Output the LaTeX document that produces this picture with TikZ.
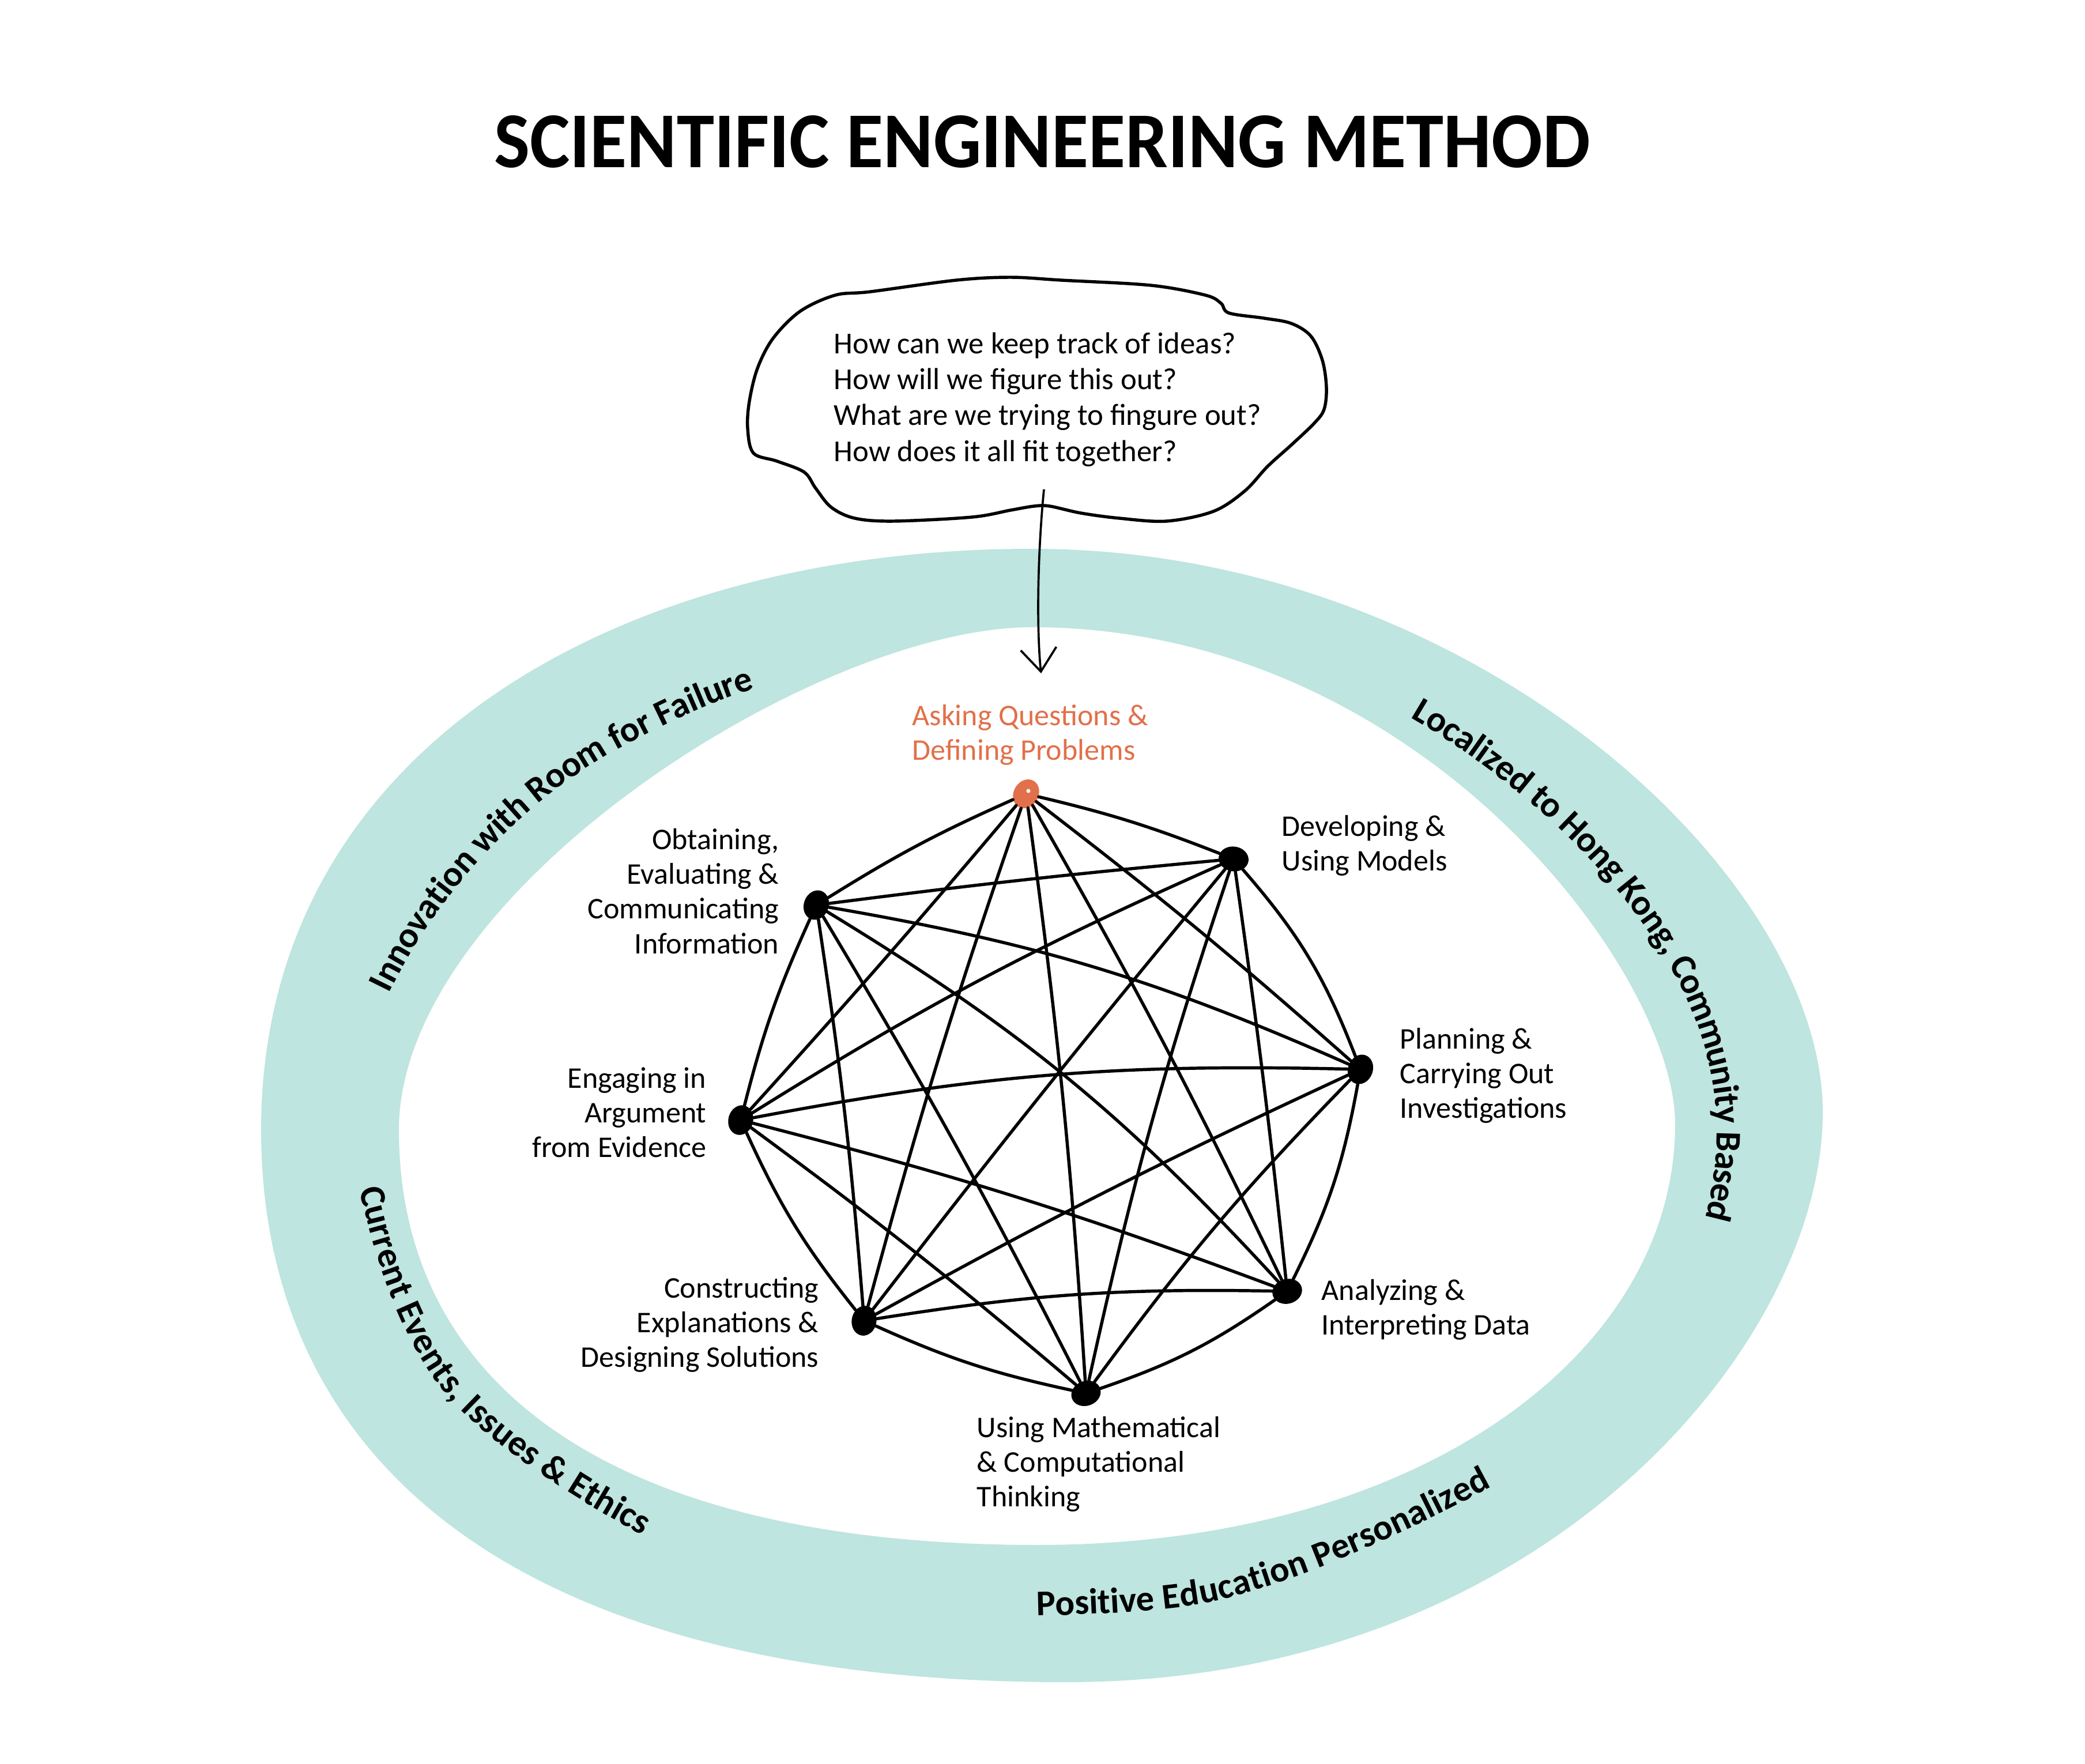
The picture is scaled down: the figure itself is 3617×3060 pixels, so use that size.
\documentclass[tikz,border=0pt]{standalone}
\usepackage{fontspec}
\usepackage{graphicx}
\setmainfont{Carlito}
\usetikzlibrary{shapes.geometric,decorations.text,arrows.meta}
\definecolor{ringcol}{RGB}{190,229,223}
\definecolor{orng}{RGB}{226,112,74}
\newcommand\ringfont{\bfseries\fontsize{17.8pt}{20pt}\selectfont}
\begin{document}
\begin{tikzpicture}[x=0.01cm,y=-0.01cm,
  link/.style={line width=1.55pt, line cap=round},
  dotnode/.style={ellipse, fill=black, inner sep=0pt, minimum width=0.52cm, minimum height=0.43cm},
  lbl/.style={font=\fontsize{14.8pt}{17.1pt}\selectfont, inner sep=0pt},
  ringtext/.style={decorate, decoration={text along path, text align=center, raise=-0.17cm, text={#1}}}
]
\useasboundingbox (0,0) rectangle (3617,3060);
\fill[white] (0,0) rectangle (3617,3060);

% ring band
\fill[ringcol, even odd rule]
  (453,1960) .. controls (453,1304) and (1066,952) .. (1790,952)
  .. controls (2547,952) and (3162,1514) .. (3162,1930)
  .. controls (3162,2333) and (2674,2918) .. (1850,2918)
  .. controls (859,2918) and (453,2509) .. (453,1960) -- cycle
  (692,1960) .. controls (692,1549) and (1414,1088) .. (1790,1088)
  .. controls (2462,1088) and (2906,1686) .. (2906,1950)
  .. controls (2906,2350) and (2459,2680) .. (1800,2680)
  .. controls (1037,2680) and (692,2387) .. (692,1960) -- cycle;

% ring labels
\begin{scope}[x=1cm,y=-1cm]
\path[ringtext={|\ringfont|Innovation with Room for Failure}]
  (6.13,18.36) .. controls (6.65,16.45) and (8.45,13.9) .. (10.9,12.7) .. controls (12.1,12.05) and (13.3,11.6) .. (14.3,11.5);
\path[ringtext={|\ringfont|Localized to Hong Kong, Community Based}]
  (22.88,11.46) .. controls (26.2,12.85) and (29.1,15.65) .. (29.75,18.23) .. controls (30.2,19.85) and (29.8,21.65) .. (28.93,22.83);
\path[ringtext={|\ringfont|Current Events, Issues {\&} Ethics}]
  (6.15,18.5) .. controls (6.2,20.5) and (6.9,23.0) .. (7.95,24.16) .. controls (9.0,25.3) and (11.3,26.6) .. (13.1,27.4);
\path[ringtext={|\ringfont|Positive Education Personalized}]
  (16.1,27.86) .. controls (17.8,27.86) and (20.0,27.83) .. (21.0,27.6) .. controls (22.3,27.3) and (24.6,26.4) .. (27.4,24.7);
\end{scope}

% title
\node[anchor=base, inner sep=0pt] (title) at (1808,290)
  {\resizebox{19.0cm}{0.9cm}{\bfseries SCIENTIFIC ENGINEERING METHOD}};

% cloud
\draw[line width=1.55pt, line join=round] plot[smooth cycle, tension=0.55] coordinates {(1510,506) (1659,486) (1753,481) (1841,486) (1997,495) (2091,512) (2118,526) (2132,543) (2193,552) (2240,561) (2274,583) (2294,625) (2301,672) (2297,710) (2280,734) (2240,772) (2199,809) (2159,852) (2105,887) (2024,904) (1942,899) (1875,890) (1821,878) (1794,878) (1753,885) (1686,897) (1550,904) (1483,899) (1442,880) (1415,847) (1395,819) (1348,800) (1307,786) (1297,743) (1300,696) (1314,639) (1341,587) (1388,540) (1449,512)};
\node[anchor=west, align=left, inner sep=0pt, font=\fontsize{15pt}{17.7pt}\selectfont] (questions) at (1446,693)
  {How can we keep track of ideas?\\How will we figure this out?\\What are we trying to fingure out?\\How does it all fit together?};

% arrow
\coordinate (arrS) at (1811,849);
\coordinate (arrE) at (1806,1168);
\draw[line width=1.05pt, -{Straight Barb[length=0.4cm,width=0.62cm]}] (arrS) .. controls (1800,960) and (1798,1090) .. (arrE);

% dots
\node[dotnode, fill=orng, rotate=60] (A) at (1780,1377) {};
\fill[white] (1784,1372) circle (0.035cm);
\node[dotnode, rotate=-8] (D) at (2140,1490) {};
\node[dotnode, rotate=70] (P) at (2360,1855) {};
\node[dotnode, rotate=15] (An) at (2233,2240) {};
\node[dotnode, rotate=20] (M) at (1884,2417) {};
\node[dotnode, rotate=80] (C) at (1499,2291) {};
\node[dotnode, rotate=75] (E) at (1285,1943) {};
\node[dotnode, rotate=70] (O) at (1416,1570) {};

% hull
\draw[link] (A) to[bend left=4] (D);
\draw[link] (D) to[bend left=10] (P);
\draw[link] (P) to[bend left=8] (An);
\draw[link] (An) to[bend left=8] (M);
\draw[link] (M) to[bend left=6] (C);
\draw[link] (C) to[bend left=7] (E);
\draw[link] (E) to[bend left=5] (O);
\draw[link] (O) to[bend left=4] (A);
% chords
\draw[link] (A) to[bend left=2] (P);
\draw[link] (A) to[bend left=2] (An);
\draw[link] (A) to[bend left=2] (M);
\draw[link] (A) to[bend right=2] (C);
\draw[link] (A) to[bend left=1] (E);
\draw[link] (D) to[bend right=1] (O);
\draw[link] (D) to[bend right=4] (E);
\draw[link] (D) to[bend right=1] (C);
\draw[link] (D) to[bend right=3] (M);
\draw[link] (D) to[bend left=1] (An);
\draw[link] (P) to[bend right=6] (E);
\draw[link] (P) to[bend right=2] (C);
\draw[link] (P) to[bend right=4] (M);
\draw[link] (P) to[bend right=7] (O);
\draw[link] (An) to[bend right=8] (O);
\draw[link] (C) to[bend left=5] (An);
\draw[link] (E) to[bend left=3] (An);
\draw[link] (E) to[bend left=2] (M);
\draw[link] (O) to[bend left=2] (M);
\draw[link] (C) to[bend right=2] (O);

% labels
\node[lbl, anchor=west, align=left, text=orng] (lA) at (1582,1275) {Asking Questions \&\\Defining Problems};
\node[lbl, anchor=west, align=left] (lD) at (2223,1467) {Developing \&\\Using Models};
\node[lbl, anchor=east, align=right] (lO) at (1352,1546) {Obtaining,\\Evaluating \&\\Communicating\\Information};
\node[lbl, anchor=west, align=left] (lP) at (2428,1866) {Planning \&\\Carrying Out\\Investigations};
\node[lbl, anchor=east, align=right] (lE) at (1226,1930) {Engaging in\\Argument\\from Evidence};
\node[lbl, anchor=west, align=left] (lAn) at (2292,2272) {Analyzing \&\\Interpreting Data};
\node[lbl, anchor=east, align=right] (lC) at (1421,2298) {Constructing\\Explanations \&\\Designing Solutions};
\node[lbl, anchor=west, align=left] (lM) at (1694,2540) {Using Mathematical\\\& Computational\\Thinking};
\end{tikzpicture}
\end{document}
